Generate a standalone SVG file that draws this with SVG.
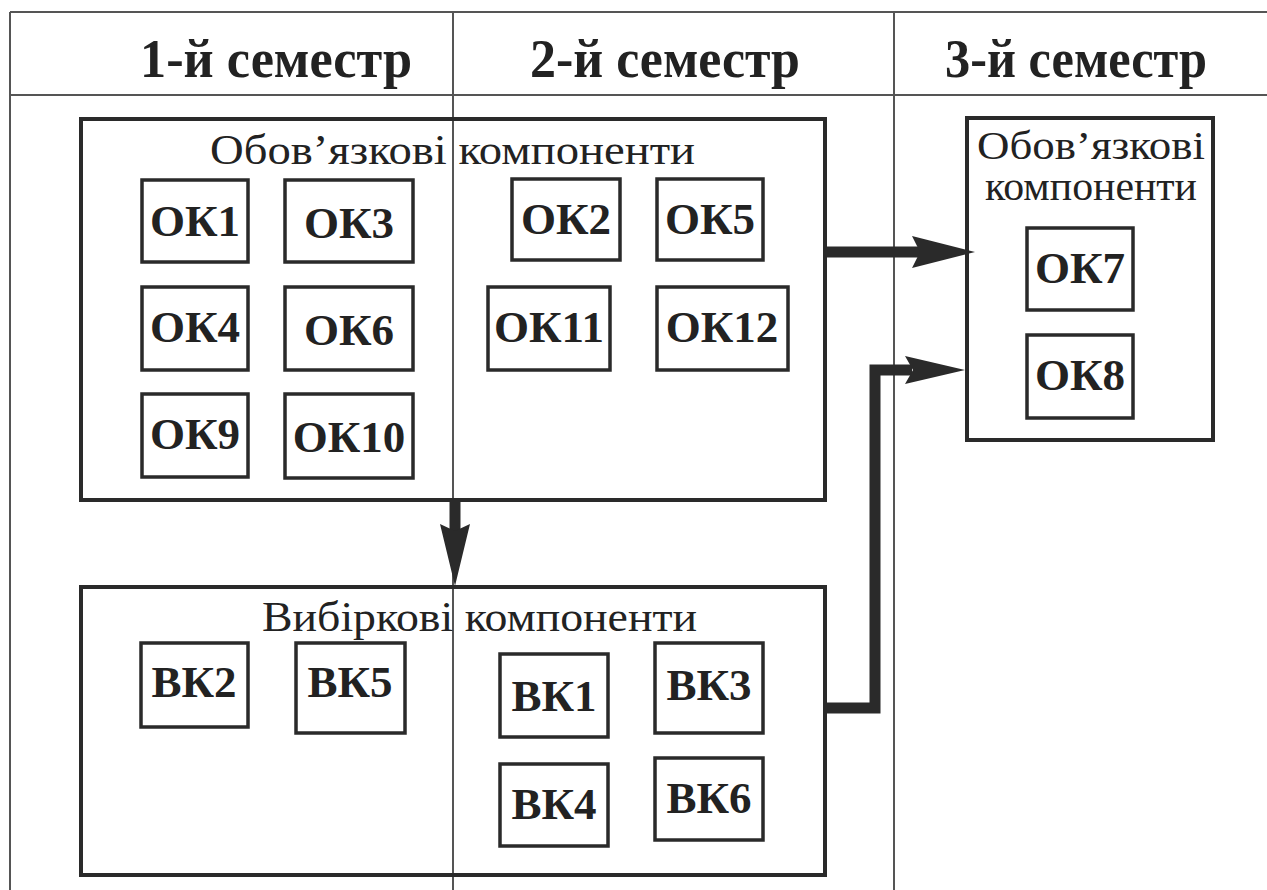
<svg xmlns="http://www.w3.org/2000/svg" width="1267" height="890" viewBox="0 0 1267 890">
<style>
.grid{stroke:#555;stroke-width:2;fill:none}
.big{fill:none;stroke:#2a2a2a;stroke-width:4}
.box{fill:#fff;stroke:#2a2a2a;stroke-width:3.5}
.hdr{font-family:"Liberation Serif",serif;font-weight:bold;font-size:54px;fill:#222}
.lbl{font-family:"Liberation Serif",serif;font-size:43px;fill:#222}
.lbl3{font-family:"Liberation Serif",serif;font-size:40px;fill:#222}
.ok{font-family:"Liberation Serif",serif;font-weight:bold;font-size:45px;fill:#222;text-anchor:middle}
.conn{fill:none;stroke:#2a2a2a;stroke-width:11}
.head{fill:#2a2a2a}
</style>
<rect width="1267" height="890" fill="#fff"/>
<g id="table">
<line class="grid" x1="10" y1="12" x2="1267" y2="12"/>
<line class="grid" x1="10" y1="95" x2="1267" y2="95"/>
<line class="grid" x1="10" y1="12" x2="10" y2="890"/>
<line class="grid" x1="453" y1="12" x2="453" y2="890"/>
<line class="grid" x1="894" y1="12" x2="894" y2="890"/>
<text class="hdr" x="140" y="77" textLength="272" lengthAdjust="spacingAndGlyphs">1-й семестр</text>
<text class="hdr" x="530" y="77" textLength="270" lengthAdjust="spacingAndGlyphs">2-й семестр</text>
<text class="hdr" x="945" y="77" textLength="262" lengthAdjust="spacingAndGlyphs">3-й семестр</text>
</g>
<g id="mandatory">
<rect class="big" x="81" y="119" width="744" height="381"/>
<text class="lbl" x="210" y="164" textLength="485" lengthAdjust="spacingAndGlyphs">Обов’язкові компоненти</text>
</g>
<g id="elective">
<rect class="big" x="81" y="587" width="744" height="288"/>
<text class="lbl" x="262" y="631" textLength="435" lengthAdjust="spacingAndGlyphs">Вибіркові компоненти</text>
</g>
<g id="mandatory3">
<rect class="big" x="967" y="118" width="246" height="322"/>
<text class="lbl3" x="977" y="159" textLength="228" lengthAdjust="spacingAndGlyphs">Обов’язкові</text>
<text class="lbl3" x="985" y="200" textLength="212" lengthAdjust="spacingAndGlyphs">компоненти</text>
</g>
<g id="OK1"><rect class="box" x="142" y="180" width="106" height="82"/><text class="ok" x="195" y="236">ОК1</text></g>
<g id="OK3"><rect class="box" x="285" y="180" width="128" height="82"/><text class="ok" x="349" y="238">ОК3</text></g>
<g id="OK4"><rect class="box" x="142" y="287" width="106" height="83"/><text class="ok" x="195" y="342">ОК4</text></g>
<g id="OK6"><rect class="box" x="285" y="287" width="128" height="83"/><text class="ok" x="349" y="345">ОК6</text></g>
<g id="OK9"><rect class="box" x="142" y="394" width="106" height="83"/><text class="ok" x="195" y="449">ОК9</text></g>
<g id="OK10"><rect class="box" x="285" y="394" width="128" height="84"/><text class="ok" x="349" y="452">ОК10</text></g>
<g id="OK2"><rect class="box" x="512" y="179" width="108" height="81"/><text class="ok" x="566" y="234">ОК2</text></g>
<g id="OK5"><rect class="box" x="657" y="179" width="106" height="81"/><text class="ok" x="710" y="234">ОК5</text></g>
<g id="OK11"><rect class="box" x="488" y="287" width="122" height="83"/><text class="ok" x="549" y="342">ОК11</text></g>
<g id="OK12"><rect class="box" x="657" y="287" width="131" height="83"/><text class="ok" x="722" y="342">ОК12</text></g>
<g id="OK7"><rect class="box" x="1027" y="228" width="106" height="82"/><text class="ok" x="1080" y="283">ОК7</text></g>
<g id="OK8"><rect class="box" x="1027" y="335" width="106" height="83"/><text class="ok" x="1080" y="390">ОК8</text></g>
<g id="BK2"><rect class="box" x="141" y="643" width="107" height="84"/><text class="ok" x="194" y="697">ВК2</text></g>
<g id="BK5"><rect class="box" x="296" y="643" width="109" height="90"/><text class="ok" x="350" y="697">ВК5</text></g>
<g id="BK1"><rect class="box" x="500" y="654" width="108" height="83"/><text class="ok" x="554" y="711">ВК1</text></g>
<g id="BK3"><rect class="box" x="655" y="643" width="108" height="90"/><text class="ok" x="709" y="700">ВК3</text></g>
<g id="BK4"><rect class="box" x="500" y="764" width="108" height="82"/><text class="ok" x="554" y="819">ВК4</text></g>
<g id="BK6"><rect class="box" x="655" y="758" width="108" height="82"/><text class="ok" x="709" y="813">ВК6</text></g>
<g id="connectors">
<line class="conn" x1="455" y1="500" x2="455" y2="535"/>
<polygon class="head" points="440,524 455,531 470,524 455,586"/>
<line class="conn" x1="825" y1="252" x2="920" y2="252"/>
<polygon class="head" points="912,236 920,252 912,268 975,252"/>
<polyline class="conn" points="825,708 875,708 875,370 912,370"/>
<polygon class="head" points="905,356 913,370 905,384 965,370"/>
</g>
</svg>
